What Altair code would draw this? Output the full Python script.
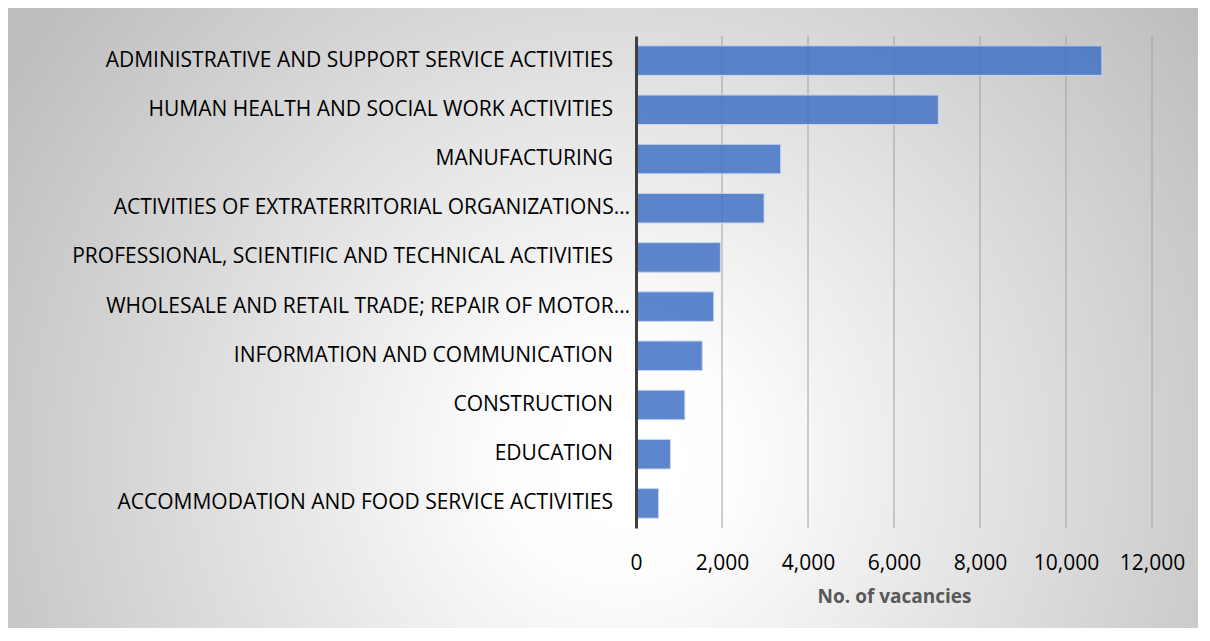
import altair as alt
import pandas as pd

sectors = [
    "ADMINISTRATIVE AND SUPPORT SERVICE ACTIVITIES",
    "HUMAN HEALTH AND SOCIAL WORK ACTIVITIES",
    "MANUFACTURING",
    "ACTIVITIES OF EXTRATERRITORIAL ORGANIZATIONS…",
    "PROFESSIONAL, SCIENTIFIC AND TECHNICAL ACTIVITIES",
    "WHOLESALE AND RETAIL TRADE; REPAIR OF MOTOR…",
    "INFORMATION AND COMMUNICATION",
    "CONSTRUCTION",
    "EDUCATION",
    "ACCOMMODATION AND FOOD SERVICE ACTIVITIES",
]
vacancies = [10835, 7031, 3365, 2978, 1962, 1807, 1540, 1136, 800, 525]
tick_values = [0, 2000, 4000, 6000, 8000, 10000, 12000]
grid_values = [2000, 4000, 6000, 8000, 10000, 12000]

df = pd.DataFrame({"sector": sectors, "vacancies": vacancies})
grid_df = pd.DataFrame({"v": grid_values})

PW, PH = 516, 492
FONT = "Open Sans"
LABEL_SIZE = 21

xscale = alt.Scale(domain=[0, 12000], nice=False)
yscale = alt.Scale(paddingInner=0.4, paddingOuter=0.2)

background = alt.Chart(pd.DataFrame({"a": [0]})).mark_rect(
    fill={
        "gradient": "radial",
        "x1": 0.5, "y1": 0.5, "r1": 0,
        "x2": 0.5, "y2": 0.5, "r2": 0.56,
        "stops": [
            {"offset": 0, "color": "#ffffff"},
            {"offset": 0.15, "color": "#fefefe"},
            {"offset": 1, "color": "#bdbdbd"},
        ],
    }
).encode(
    x=alt.value(-666), x2=alt.value(634),
    y=alt.value(-226), y2=alt.value(1074),
)

grid = alt.Chart(grid_df).mark_rule(color="#a0a0a0", strokeWidth=1).encode(
    x=alt.X("v:Q", scale=xscale),
    y=alt.value(0), y2=alt.value(PH),
)

bars = alt.Chart(df).mark_bar(
    fill="#4472C4", fillOpacity=0.86, stroke="#c6d5ee", strokeWidth=1
).encode(
    x=alt.X(
        "vacancies:Q",
        scale=xscale,
        axis=alt.Axis(
            values=tick_values, format=",.0f", grid=False, domain=False, ticks=False,
            tickSize=0, labelFont=FONT, labelFontSize=LABEL_SIZE, labelColor="#000000",
            labelPadding=24, labelOverlap=False, labelFlush=False,
            title="No. of vacancies", titleFont=FONT,
            titleFontSize=19, titleFontWeight="bold", titleColor="#595959",
            titlePadding=14, zindex=2,
        ),
    ),
    y=alt.Y(
        "sector:N",
        sort=sectors,
        scale=yscale,
        axis=alt.Axis(
            title=None, ticks=False, tickSize=0, grid=False, labels=False,
            domainColor="#404040", domainWidth=3, zindex=2,
        ),
    ),
)

truncated = "slice(datum.sector, -1) == '…'"

labels_trunc = alt.Chart(df).transform_filter(truncated).mark_text(
    align="right", baseline="middle", dx=-6, font=FONT,
    fontSize=LABEL_SIZE, color="#000000",
).encode(
    x=alt.value(0),
    y=alt.Y("sector:N", sort=sectors, scale=yscale),
    text="sector:N",
)

labels_full = alt.Chart(df).transform_filter("!(" + truncated + ")").mark_text(
    align="right", baseline="middle", dx=-23, font=FONT,
    fontSize=LABEL_SIZE, color="#000000",
).encode(
    x=alt.value(0),
    y=alt.Y("sector:N", sort=sectors, scale=yscale),
    text="sector:N",
)

chart = alt.layer(background, grid, bars, labels_trunc, labels_full).properties(
    width=PW, height=PH,
    autosize=alt.AutoSizeParams(type="none"),
    padding={"left": 628, "top": 28, "right": 46, "bottom": 100},
).configure_view(stroke=None)

chart.save("out.html", embed_options={"renderer": "svg", "actions": False})
